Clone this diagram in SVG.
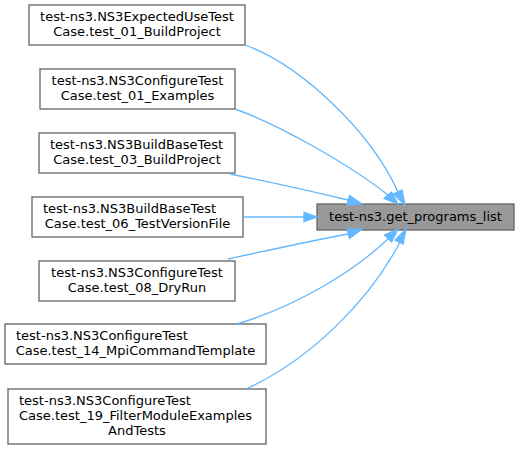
<svg xmlns="http://www.w3.org/2000/svg" width="519" height="450" viewBox="0 0 519 450">
<style>
.n rect{fill:#ffffff;stroke:#666666;stroke-width:1.33}
.t rect{fill:#999999;stroke:#666666;stroke-width:1.33}
text{font-family:"DejaVu Sans","Liberation Sans",sans-serif;font-size:13px;fill:#000000}
.m{text-anchor:middle}
.s{text-anchor:start}
.e path{fill:none;stroke:#63b8ff;stroke-width:1.33}
.e polygon{fill:#63b8ff;stroke:#63b8ff;stroke-width:1.33}
</style>
<rect width="519" height="450" fill="#ffffff"/>
<g id="target" class="t">
<rect x="317" y="204" width="197" height="26"/>
<text class="m" x="415.5" y="221">test-ns3.get_programs_list</text>
</g>
<g id="node1" class="n">
<rect x="29" y="5" width="216" height="40"/>
<text class="m" x="137" y="21">test-ns3.NS3ExpectedUseTest</text>
<text class="m" x="137" y="36">Case.test_01_BuildProject</text>
</g>
<g id="node2" class="n">
<rect x="40" y="69" width="195" height="40"/>
<text class="m" x="137.5" y="85">test-ns3.NS3ConfigureTest</text>
<text class="m" x="137.5" y="100">Case.test_01_Examples</text>
</g>
<g id="node3" class="n">
<rect x="39" y="133" width="196" height="40"/>
<text class="s" x="50" y="149">test-ns3.NS3BuildBaseTest</text>
<text class="m" x="137" y="164">Case.test_03_BuildProject</text>
</g>
<g id="node4" class="n">
<rect x="32" y="197" width="211" height="40"/>
<text class="s" x="43" y="213">test-ns3.NS3BuildBaseTest</text>
<text class="m" x="137.5" y="228">Case.test_06_TestVersionFile</text>
</g>
<g id="node5" class="n">
<rect x="39" y="261" width="196" height="40"/>
<text class="m" x="137" y="277">test-ns3.NS3ConfigureTest</text>
<text class="m" x="137" y="292">Case.test_08_DryRun</text>
</g>
<g id="node6" class="n">
<rect x="5" y="324" width="261" height="40"/>
<text class="s" x="16" y="340">test-ns3.NS3ConfigureTest</text>
<text class="m" x="135.5" y="355">Case.test_14_MpiCommandTemplate</text>
</g>
<g id="node7" class="n">
<rect x="8" y="389" width="258" height="55"/>
<text class="s" x="19" y="405">test-ns3.NS3ConfigureTest</text>
<text class="s" x="19" y="420">Case.test_19_FilterModuleExamples</text>
<text class="m" x="137" y="435">AndTests</text>
</g>
<g id="edges" class="e">
<path d="M245,45 C300,65 370,130 398,192"/>
<polygon points="393.5,194 405,205 402,190"/>
<path d="M235,109 C280,125 350,165 388,195"/>
<polygon points="384,198.5 398,204 391.5,192"/>
<path d="M230,174 C270,182 310,191 348,200"/>
<polygon points="347,205 362,204 349.5,195.5"/>
<path d="M243,217 L304,217"/>
<polygon points="304,212.5 317,217 304,221.5"/>
<path d="M228,259 C270,250 310,241 348,234"/>
<polygon points="349.5,238.5 362,229 347,229.5"/>
<path d="M237,324 C300,305 355,270 388,239"/>
<polygon points="391.5,242 398,229 384.5,235"/>
<path d="M246,389 C310,360 370,300 400,242"/>
<polygon points="403,244 406,229 395,240"/>
</g>
</svg>
